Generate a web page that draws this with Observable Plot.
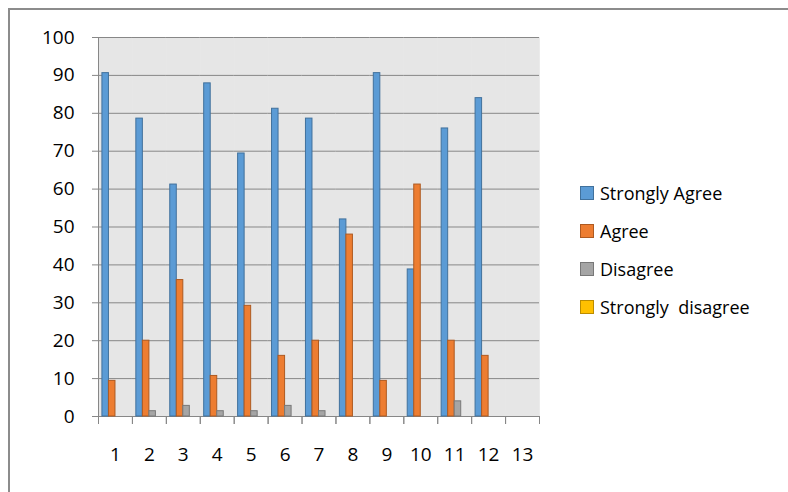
<!DOCTYPE html>
<html>
<head>
<meta charset="utf-8">
<script src="https://cdn.jsdelivr.net/npm/d3@7"></script>
<script src="https://cdn.jsdelivr.net/npm/@observablehq/plot@0.6"></script>
<style>
  body { margin: 0; background: #fff; }
  #wrap { position: relative; width: 788px; height: 492px; overflow: hidden; }
  #border { position: absolute; left: 8px; top: 8px; width: 800px; height: 500px;
            border-left: 2px solid #8c8c8c; border-top: 2px solid #8c8c8c; }
  #chart { position: absolute; left: 0; top: 0; }
  #legend { position: absolute; left: 580px; top: 174px; font-family: "Open Sans", sans-serif;
            font-size: 18px; color: #000; }
  .item { display: flex; align-items: center; height: 38px; white-space: pre; }
  .sw { width: 14px; height: 14px; margin-right: 6px; box-sizing: border-box; border: 1px solid; }
</style>
</head>
<body>
<div id="wrap">
  <div id="border"></div>
  <div id="chart"></div>
  <div id="legend"></div>
</div>
<script>
// Categories (statements 1..13)
const categories = ["1","2","3","4","5","6","7","8","9","10","11","12","13"];
// Series names
const series = ["Strongly Agree", "Agree", "Disagree", "Strongly  disagree"];
// Values (percent) per series, one per category
const stronglyAgree     = [90.6, 78.6, 61.2, 87.9, 69.4, 81.2, 78.6, 52.0, 90.6, 38.8, 76.0, 84.0, 0];
const agree             = [ 9.4, 20.0, 36.0, 10.7, 29.2, 16.0, 20.0, 48.0,  9.4, 61.2, 20.0, 16.0, 0];
const disagree          = [ 0,    1.4,  2.8,  1.4,  1.4,  2.8,  1.4,  0,    0,    0,    4.0,  0,    0];
const stronglyDisagree  = [ 0,    0,    0,    0,    0,    0,    0,    0,    0,    0,    0,    0,    0];
// Y tick labels
const yTicks = [0, 10, 20, 30, 40, 50, 60, 70, 80, 90, 100];
// Colours
const fills   = ["#5b9bd5", "#ed7d31", "#a5a5a5", "#ffc000"];
const strokes = ["#41719c", "#ae5a21", "#787878", "#bc8c00"];

const valuesBySeries = [stronglyAgree, agree, disagree, stronglyDisagree];
const rows = categories.flatMap((c, i) =>
  series.map((s, k) => ({cat: c, series: s, value: valuesBySeries[k][i], k})));

const W = 788, H = 492, mT = 37, mB = 76, mL = 98, mR = 249;
const plotH = H - mT - mB;
const gray = "#878787";

const chart = Plot.plot({
  width: W, height: H,
  marginTop: mT, marginBottom: mB, marginLeft: mL, marginRight: mR,
  style: {fontFamily: "'Open Sans', sans-serif", fontSize: "19px", color: "#000", background: "transparent"},
  fx: {domain: categories, padding: 0, round: false, label: null, axis: null},
  x: {domain: series, paddingInner: 0, paddingOuter: 0.6, round: false, axis: null},
  y: {domain: [0, 100], label: null, axis: null},
  color: {domain: series, range: fills},
  marks: [
    Plot.frame({fill: "#e6e6e6", stroke: "#e6e6e6", strokeWidth: 0.6}),
    Plot.gridY(yTicks, {stroke: gray, strokeOpacity: 1, strokeWidth: 1}),
    Plot.ruleY([0], {stroke: gray, strokeWidth: 1}),
    Plot.frame({anchor: "left", stroke: gray, insetTop: plotH, insetBottom: -7}),
    Plot.frame({anchor: "right", stroke: gray, insetTop: plotH, insetBottom: -7}),
    Plot.frame({anchor: "left", stroke: gray, facetAnchor: "left", insetBottom: -0.5}),
    Plot.barY(rows, {
      fx: "cat", x: "series", y: "value", fill: "series",
      stroke: {value: d => strokes[d.k], scale: null}, strokeWidth: 1
    }),
    Plot.axisY(yTicks, {anchor: "left", tickSize: 6, tickPadding: 18, stroke: gray, fill: "#000",
      fontSize: 19, label: null}),
    Plot.axisFx({anchor: "bottom", tickSize: 0, tickPadding: 31, fill: "#000", fontSize: 19, label: null})
  ]
});
document.getElementById("chart").appendChild(chart);

// Legend
const legend = document.getElementById("legend");
series.forEach((s, k) => {
  const item = document.createElement("div");
  item.className = "item";
  const sw = document.createElement("span");
  sw.className = "sw";
  sw.style.background = fills[k];
  sw.style.borderColor = strokes[k];
  const t = document.createElement("span");
  t.textContent = s;
  item.appendChild(sw);
  item.appendChild(t);
  legend.appendChild(item);
});
</script>
</body>
</html>
